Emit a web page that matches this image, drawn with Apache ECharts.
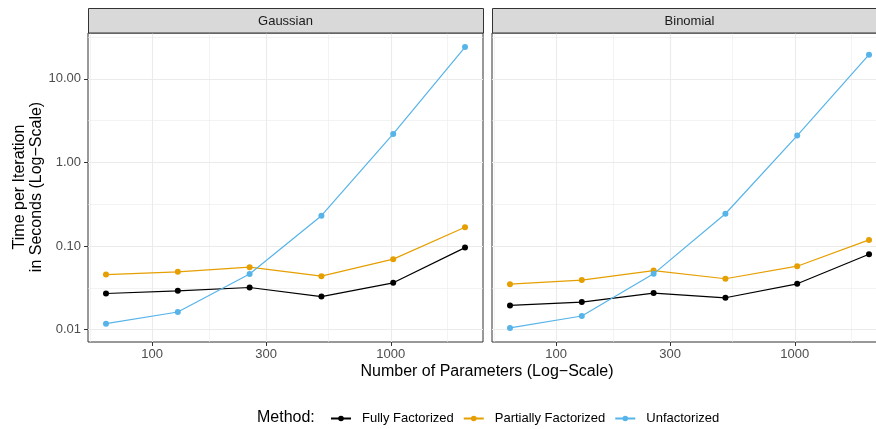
<!DOCTYPE html>
<html>
<head>
<meta charset="utf-8">
<script src="https://cdn.jsdelivr.net/npm/echarts@6/dist/echarts.min.js"></script>
<style>
html,body{margin:0;padding:0;background:#fff;}
#chart{width:876px;height:429px;}
</style>
</head>
<body>
<div id="chart"></div>
<script>
// ---- data ----
var params = [64, 128, 256, 512, 1024, 2048];
var methods = ['Fully Factorized', 'Partially Factorized', 'Unfactorized'];
var panels = ['Gaussian', 'Binomial'];
var gaussianFully   = [0.0271, 0.0292, 0.0320, 0.0249, 0.0364, 0.096];
var gaussianPartial = [0.0457, 0.0492, 0.0560, 0.0437, 0.0698, 0.168];
var gaussianUnfact  = [0.0118, 0.0163, 0.0463, 0.231, 2.20, 24.0];
var binomialFully   = [0.0195, 0.0214, 0.0274, 0.0241, 0.0354, 0.080];
var binomialPartial = [0.0351, 0.0392, 0.0510, 0.0407, 0.0575, 0.1186];
var binomialUnfact  = [0.0105, 0.0146, 0.0466, 0.244, 2.10, 19.5];
var xTicks = [100, 300, 1000];
var xMinor = [54.77, 173.2, 547.7, 1732];
var yTicks = [0.01, 0.1, 1, 10];
var yMinor = [0.0316, 0.316, 3.162, 31.62];

var colors = ['#000000', '#E69F00', '#56B4E9'];
var panelData = [
  [gaussianFully, gaussianPartial, gaussianUnfact],
  [binomialFully, binomialPartial, binomialUnfact]
];

var X_MIN = 53.8, X_MAX = 2436, Y_MIN = 0.00713, Y_MAX = 35.4;
var FONT = '"Liberation Sans", Arial, sans-serif';
var gridLeft = [88, 492], gridW = 395, gridTop = 33, gridH = 309;

var grids = [], xAxes = [], yAxes = [], series = [], graphics = [];

panels.forEach(function (name, p) {
  grids.push({left: gridLeft[p], width: gridW, top: gridTop, height: gridH,
    containLabel: false, outerBoundsMode: 'none',
    show: true, borderColor: '#333333', borderWidth: 1, backgroundColor: '#ffffff'});
  // minor x axis (grid lines only)
  xAxes.push({type: 'log', logBase: 10, gridIndex: p, position: 'bottom', offset: 0, min: X_MIN, max: X_MAX, z: 0,
    axisLine: {show: false}, axisTick: {show: false, customValues: xMinor},
    axisLabel: {show: false, customValues: xMinor},
    splitLine: {show: true, lineStyle: {color: '#EBEBEB', width: 0.6}}});
  // major x axis
  xAxes.push({type: 'log', logBase: 10, gridIndex: p, position: 'bottom', offset: 0, min: X_MIN, max: X_MAX, z: 1,
    axisLine: {show: false},
    axisTick: {show: true, length: 4, customValues: xTicks, lineStyle: {color: '#333333', width: 1}},
    axisLabel: {show: true, customValues: xTicks, margin: 6, color: '#4D4D4D', fontSize: 13, fontFamily: FONT,
      formatter: function (v) { return String(Math.round(v)); }},
    splitLine: {show: true, lineStyle: {color: '#EBEBEB', width: 1.1}}});
  // minor y
  yAxes.push({type: 'log', logBase: 10, gridIndex: p, position: 'left', offset: 0, min: Y_MIN, max: Y_MAX, z: 0,
    axisLine: {show: false}, axisTick: {show: false, customValues: yMinor},
    axisLabel: {show: false, customValues: yMinor},
    splitLine: {show: true, lineStyle: {color: '#EBEBEB', width: 0.6}}});
  // major y
  yAxes.push({type: 'log', logBase: 10, gridIndex: p, position: 'left', offset: 0, min: Y_MIN, max: Y_MAX, z: 1,
    axisLine: {show: false},
    axisTick: {show: p === 0, length: 4, customValues: yTicks, lineStyle: {color: '#333333', width: 1}},
    axisLabel: {show: p === 0, customValues: yTicks, margin: 7, color: '#4D4D4D', fontSize: 13, fontFamily: FONT,
      formatter: function (v) { return v.toFixed(2); }},
    splitLine: {show: true, lineStyle: {color: '#EBEBEB', width: 1.1}}});

  methods.forEach(function (m, k) {
    var vals = panelData[p][k];
    series.push({
      name: m, type: 'line', xAxisIndex: p * 2 + 1, yAxisIndex: p * 2 + 1,
      data: params.map(function (x, i) { return [x, vals[i]]; }),
      symbol: 'circle', symbolSize: 6, showSymbol: true,
      lineStyle: {color: colors[k], width: 1.2},
      itemStyle: {color: colors[k]},
      animation: false, z: 3 + k
    });
  });

  graphics.push({type: 'rect', shape: {x: gridLeft[p] + 0.5, y: 8.5, width: gridW, height: 24.5},
    style: {fill: '#D9D9D9', stroke: '#333333', lineWidth: 1}, z: 10});
  graphics.push({type: 'text', x: gridLeft[p] + gridW / 2, y: 21, z: 11,
    style: {text: name, fill: '#1A1A1A', font: '13px ' + FONT, textAlign: 'center', textVerticalAlign: 'middle'}});
});

graphics.push({type: 'text', x: 28, y: 187, rotation: Math.PI / 2, z: 11,
  style: {text: 'Time per Iteration\nin Seconds (Log\u2212Scale)', fill: '#000000', font: '16px ' + FONT,
    textAlign: 'center', textVerticalAlign: 'middle', lineHeight: 17}});
graphics.push({type: 'text', x: 487, y: 372, z: 11,
  style: {text: 'Number of Parameters (Log\u2212Scale)', fill: '#000000', font: '16px ' + FONT,
    textAlign: 'center', textVerticalAlign: 'middle'}});
graphics.push({type: 'text', x: 257, y: 418, z: 11,
  style: {text: 'Method:', fill: '#000000', font: '16px ' + FONT,
    textAlign: 'left', textVerticalAlign: 'middle'}});

var chart = echarts.init(document.getElementById('chart'), null, {renderer: 'canvas'});
chart.setOption({
  animation: false,
  backgroundColor: '#ffffff',
  grid: grids,
  xAxis: xAxes,
  yAxis: yAxes,
  legend: {data: methods, left: 325, top: 407, itemWidth: 20, itemHeight: 7, itemGap: 9,
    textStyle: {color: '#000000', fontSize: 13, fontFamily: FONT, padding: [0, 0, 0, 6]},
    selectedMode: false},
  series: series,
  graphic: graphics
});
</script>
</body>
</html>
